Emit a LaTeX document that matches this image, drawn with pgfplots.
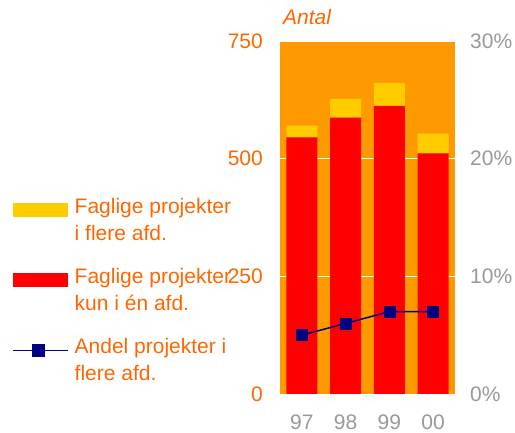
\documentclass[border=0pt]{standalone}
\usepackage{fontspec}
\setmainfont{Liberation Sans}
\usepackage{pgfplots}
\pgfplotsset{compat=1.18}
\definecolor{bgorange}{HTML}{FF9900}
\definecolor{barred}{HTML}{FF0000}
\definecolor{baryellow}{HTML}{FFCC00}
\definecolor{navyline}{HTML}{000080}
\definecolor{txtorange}{HTML}{FF6600}
\definecolor{txtgray}{HTML}{999999}
\newcommand{\chartfont}{\fontsize{21}{27.3}\selectfont}
\pgfplotsset{
  boxlegend/.style={legend image code/.code={\fill[##1] (0pt,3pt) rectangle (55pt,17pt);}},
  linelegend/.style={legend image code/.code={\draw[navyline, line width=1.5pt] (0pt,10pt) -- (55pt,10pt);
      \fill[navyline] (19.5pt,4pt) rectangle (31.5pt,16pt);}},
}
\begin{document}
\begin{tikzpicture}
\useasboundingbox (0,0) rectangle (515pt,433pt);
\begin{axis}[
  at={(280pt,39pt)}, anchor=south west,
  scale only axis, width=175pt, height=353pt,
  xmin=-0.5, xmax=3.5, ymin=0, ymax=750,
  ybar stacked, bar width=31pt,
  axis background/.style={fill=bgorange},
  axis line style={draw=none},
  major tick length=0pt,
  ytick={0,250,500,750},
  ymajorgrids, grid style={white, line width=0.8pt},
  xtick={0,1,2,3}, xticklabels={97,98,99,00},
  /pgf/number format/assume math mode=true,
  yticklabel style={text=txtorange, font=\chartfont, inner sep=0pt, anchor=east, xshift=-17pt},
  xticklabel style={text=txtgray, font=\chartfont, inner sep=0pt, anchor=base, yshift=-36pt},
  title={Antal},
  title style={at={(0,1)}, anchor=base west, xshift=3pt, yshift=11pt, inner sep=0pt,
    text=txtorange, font=\chartfont\itshape},
  legend style={at={(-1.5314,0.555)}, anchor=north west, draw=none, fill=none,
    font=\chartfont, text=txtorange, cells={align=left}, row sep=26pt,
    column sep=6pt, inner sep=0pt, nodes={inner sep=0pt}},
  legend cell align=left,
]
\addlegendimage{boxlegend, fill=baryellow, draw=none}
\addlegendentry{Faglige projekter\\i flere afd.}
\addlegendimage{boxlegend, fill=barred, draw=none}
\addlegendentry{Faglige projekter\\kun i én afd.}
\addlegendimage{linelegend}
\addlegendentry{Andel projekter i\\flere afd.}
\addplot[fill=barred, draw=none, forget plot] coordinates {(0,545) (1,587) (2,612) (3,511)};
\addplot[fill=baryellow, draw=none, forget plot] coordinates {(0,25) (1,40) (2,49) (3,42)};
\end{axis}
\begin{axis}[
  at={(280pt,39pt)}, anchor=south west,
  scale only axis, width=175pt, height=353pt,
  xmin=-0.5, xmax=3.5, ymin=0, ymax=30,
  hide x axis, axis y line*=right, y axis line style={draw=none},
  major tick length=0pt,
  ytick={0,10,20,30},
  yticklabel={\pgfmathprintnumber{\tick}\%},
  /pgf/number format/assume math mode=true,
  yticklabel style={text=txtgray, font=\chartfont, inner sep=0pt, anchor=west, xshift=15pt},
]
\addplot[navyline, line width=1.5pt, mark=square*, mark size=5.5pt, mark options={solid, line width=0.5pt}]
  coordinates {(0,5) (1,6) (2,7) (3,7)};
\end{axis}
\end{tikzpicture}
\end{document}
